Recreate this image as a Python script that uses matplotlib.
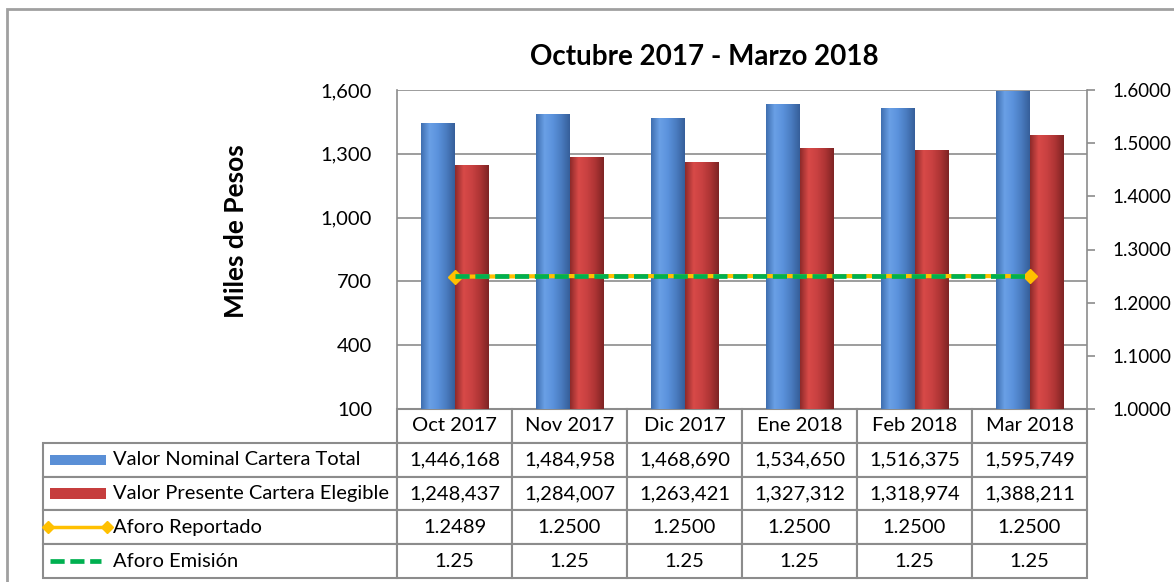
import matplotlib
matplotlib.use("Agg")
import matplotlib.pyplot as plt
import numpy as np
from matplotlib.colors import LinearSegmentedColormap
from matplotlib.lines import Line2D
from matplotlib.patches import Rectangle

plt.rcParams["font.family"] = ["Lato", "DejaVu Sans"]

MONTHS = ["Oct 2017", "Nov 2017", "Dic 2017", "Ene 2018", "Feb 2018", "Mar 2018"]
NOMINAL = [1446168, 1484958, 1468690, 1534650, 1516375, 1595749]
PRESENTE = [1248437, 1284007, 1263421, 1327312, 1318974, 1388211]
AFORO_REP = [1.2489, 1.2500, 1.2500, 1.2500, 1.2500, 1.2500]
AFORO_EMI = [1.25, 1.25, 1.25, 1.25, 1.25, 1.25]

SERIES_NAMES = [
    "Valor Nominal Cartera Total",
    "Valor Presente Cartera Elegible",
    "Aforo Reportado",
    "Aforo Emisión",
]

BLUE = "#5a8fd6"
RED = "#c63d3d"
YELLOW = "#ffc000"
GREEN = "#00b050"
GRID = "#8c8c8c"

W, H = 1174, 582
fig = plt.figure(figsize=(W / 100, H / 100), dpi=100)
ax = fig.add_axes([397 / W, 1 - 409 / H, 690 / W, 319 / H])

Y_MIN, Y_MAX = 100, 1600
x = np.arange(len(MONTHS))
bw = 0.29
nominal_k = np.array(NOMINAL) / 1000.0
presente_k = np.array(PRESENTE) / 1000.0

cm_blue = LinearSegmentedColormap.from_list(
    "b", ["#3f6fb0", "#6aa0e6", "#5b92dc", "#4a7cc0", "#365f9a"])
cm_red = LinearSegmentedColormap.from_list(
    "r", ["#8e2a2a", "#d84a48", "#c94141", "#ad3434", "#7e2424"])
grad = np.linspace(0, 1, 64).reshape(1, -1)

# bars rise from the axis floor, as in the spreadsheet chart
bars_b = ax.bar(x - bw / 2, nominal_k - Y_MIN, bw, bottom=Y_MIN, color=BLUE, zorder=2)
bars_r = ax.bar(x + bw / 2, presente_k - Y_MIN, bw, bottom=Y_MIN, color=RED, zorder=2)
for bars, cmap in ((bars_b, cm_blue), (bars_r, cm_red)):
    for b in bars:
        x0, y0 = b.get_x(), b.get_y()
        im = ax.imshow(grad, cmap=cmap, aspect="auto", zorder=2.5,
                       extent=[x0, x0 + b.get_width(), y0, y0 + b.get_height()])
        im.set_clip_path(b)

ax.set_xlim(-0.5, len(MONTHS) - 0.5)
ax.set_ylim(Y_MIN, Y_MAX)
yt = [100, 400, 700, 1000, 1300, 1600]
ax.set_yticks(yt)
ax.set_yticklabels([f"{v:,}" for v in yt])
ax.set_xticks([])
ax.grid(axis="y", color=GRID, lw=1.2, zorder=0)
ax.set_axisbelow(True)
ax.tick_params(axis="y", length=0, labelsize=14.5, pad=18)
for s in ("top", "bottom", "right"):
    ax.spines[s].set_visible(False)
ax.spines["left"].set_color(GRID)
ax.spines["left"].set_linewidth(1.2)

ax2 = ax.twinx()
ax2.set_ylim(1.0, 1.6)
ticks2 = np.round(np.arange(1.0, 1.61, 0.1), 1)
ax2.set_yticks(ticks2)
ax2.set_yticklabels([f"{v:.4f}" for v in ticks2])
ax2.tick_params(axis="y", direction="out", length=6, width=1.2, color=GRID,
                labelsize=13.5, pad=12)
for s in ("top", "bottom", "left"):
    ax2.spines[s].set_visible(False)
ax2.spines["right"].set_color(GRID)
ax2.spines["right"].set_linewidth(1.2)

ax2.plot(x, AFORO_REP, color=YELLOW, lw=3, marker="D", ms=7,
         markevery=[0, len(x) - 1], zorder=3)
ax2.plot(x, AFORO_EMI, color=GREEN, lw=3.4, ls=(0, (3, 1.2)), zorder=4)

# data table below the axes
rows = [[""] + MONTHS,
        [SERIES_NAMES[0]] + [f"{v:,}" for v in NOMINAL],
        [SERIES_NAMES[1]] + [f"{v:,}" for v in PRESENTE],
        [SERIES_NAMES[2]] + [f"{v:.4f}" for v in AFORO_REP],
        [SERIES_NAMES[3]] + [f"{v:.2f}" for v in AFORO_EMI]]
label_w = 354 / 690
tab_h = 169 / 319
col_w = [label_w] + [1 / 6] * 6
tab = ax.table(cellText=rows, colWidths=col_w, cellLoc="center",
               bbox=[-label_w, -tab_h, 1 + label_w, tab_h])
tab.auto_set_font_size(False)
for (r, c), cell in tab.get_celld().items():
    cell.set_edgecolor(GRID)
    cell.set_linewidth(1.5)
    cell.get_text().set_fontsize(14.5)
    if c == 0:
        cell.get_text().set_ha("left")
        cell._loc = "left"
        cell.PAD = 70 / 354
    if r == 0 and c == 0:
        cell.visible_edges = ""
tab.set_clip_on(False)

# legend keys inside the label column
rh = tab_h / 5
kx0 = -label_w + 7 / 690
kx1 = -label_w + 63 / 690
for i in range(4):
    yc = -tab_h + (3.5 - i) * rh
    if i < 2:
        cmap = cm_blue if i == 0 else cm_red
        key = Rectangle((kx0, yc - 0.016), kx1 - kx0, 0.032, transform=ax.transAxes,
                        facecolor=BLUE if i == 0 else RED, edgecolor="none", clip_on=False)
        ax.add_patch(key)
    elif i == 2:
        ax.add_line(Line2D([kx0 - 2 / 690, kx1 + 1 / 690], [yc, yc], transform=ax.transAxes,
                           color=YELLOW, lw=2.5, marker="D", ms=6, clip_on=False))
    else:
        ax.add_line(Line2D([kx0, kx1 - 5 / 690], [yc, yc], transform=ax.transAxes,
                           color=GREEN, lw=3.4, ls=(0, (3, 1.2)), clip_on=False))

fig.text(704 / W, 1 - 57 / H, "Octubre 2017 - Marzo 2018", ha="center", va="center",
         fontsize=20, fontweight="bold")
fig.text(236 / W, 1 - 231 / H, "Miles de Pesos", ha="center", va="center",
         rotation=90, fontsize=19, fontweight="bold")

fig.patches.append(Rectangle((7 / W, -0.2), 2, 1 - 9 / H + 0.2, transform=fig.transFigure,
                             fill=False, edgecolor="#a0a0a0", lw=2))

fig.savefig("out.png", dpi=100)
